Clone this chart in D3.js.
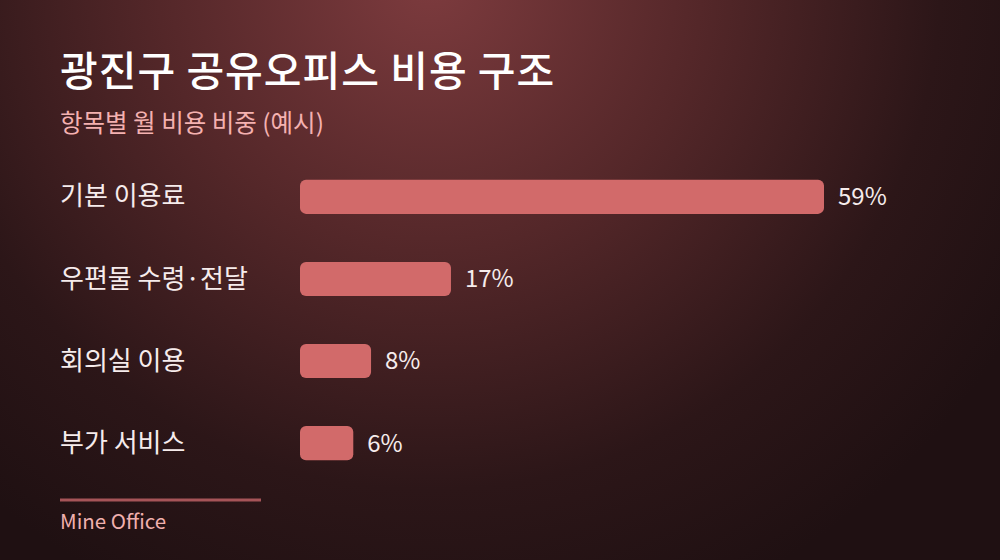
<!DOCTYPE html>
<html>
<head>
<meta charset="utf-8">
<script src="https://cdn.jsdelivr.net/npm/d3@7"></script>
<style>
  html, body { margin: 0; padding: 0; background: #1e1012; }
  svg { display: block; }
</style>
</head>
<body>
<svg id="chart"></svg>
<script>
const width = 1000, height = 560;

// data
const categories = ["기본 이용료", "우편물 수령·전달", "회의실 이용", "부가 서비스"];
const shares = [59, 17, 8, 6];
const title_text = "광진구 공유오피스 비용 구조";
const subtitle_text = "항목별 월 비용 비중 (예시)";
const source_text = "Mine Office";

const font = "'Noto Sans CJK KR', 'Noto Sans', sans-serif";

const svg = d3.select("#chart")
    .attr("width", width)
    .attr("height", height)
    .attr("viewBox", [0, 0, width, height]);

// background gradient
const defs = svg.append("defs");
const bg = defs.append("radialGradient")
    .attr("id", "bg")
    .attr("gradientUnits", "userSpaceOnUse")
    .attr("cx", 430).attr("cy", -20).attr("r", 680);
bg.append("stop").attr("offset", "0%").attr("stop-color", "#7d3b3e");
bg.append("stop").attr("offset", "40%").attr("stop-color", "#542729");
bg.append("stop").attr("offset", "75%").attr("stop-color", "#2c1618");
bg.append("stop").attr("offset", "100%").attr("stop-color", "#1f1012");

svg.append("rect")
    .attr("width", width).attr("height", height)
    .attr("fill", "url(#bg)");

// titles
svg.append("text")
    .attr("x", 60).attr("y", 86)
    .attr("font-family", font)
    .attr("font-size", 41)
    .attr("font-weight", 500)
    .attr("letter-spacing", 1)
    .attr("fill", "#ffffff")
    .text(title_text);

svg.append("text")
    .attr("x", 60).attr("y", 132)
    .attr("font-family", font)
    .attr("font-size", 24.5)
    .attr("fill", "#f4b1b0")
    .text(subtitle_text);

// scales
const x = d3.scaleLinear()
    .domain([0, d3.max(shares)])
    .range([300, 824]);

const y = d3.scaleBand()
    .domain(categories)
    .range([156, 484])
    .paddingInner(0.585)
    .paddingOuter(0.29);

const rows = svg.append("g")
    .selectAll("g")
    .data(categories)
    .join("g");

rows.append("rect")
    .attr("x", x(0))
    .attr("y", d => y(d))
    .attr("width", (d, i) => x(shares[i]) - x(0))
    .attr("height", y.bandwidth())
    .attr("rx", 6)
    .attr("fill", "#d26a6a");

rows.append("text")
    .attr("x", 60)
    .attr("y", d => y(d) + y.bandwidth() / 2)
    .attr("dy", "0.33em")
    .attr("font-family", font)
    .attr("font-size", 26)
    .attr("fill", "#f6ecec")
    .text(d => d);

rows.append("text")
    .attr("x", (d, i) => x(shares[i]) + 14)
    .attr("y", d => y(d) + y.bandwidth() / 2)
    .attr("dy", "0.35em")
    .attr("font-family", font)
    .attr("font-size", 24)
    .attr("fill", "#f6ecec")
    .text((d, i) => shares[i] + "%");

// footer
svg.append("line")
    .attr("x1", 60).attr("x2", 261)
    .attr("y1", 500).attr("y2", 500)
    .attr("stroke", "#a65458")
    .attr("stroke-width", 3);

svg.append("text")
    .attr("x", 60).attr("y", 529)
    .attr("font-family", font)
    .attr("font-size", 20.5)
    .attr("fill", "#f0b0ae")
    .text(source_text);
</script>
</body>
</html>
